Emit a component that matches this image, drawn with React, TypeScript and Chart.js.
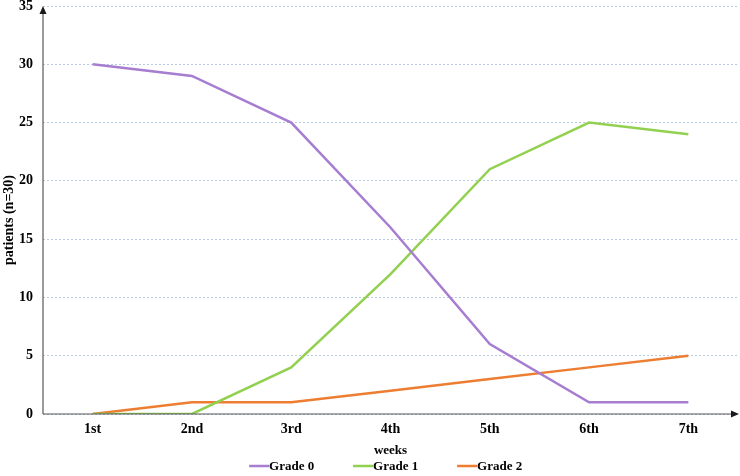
import React, { useEffect, useRef } from "react";
import { Chart, registerables } from "chart.js";

Chart.register(...registerables);

const categories = ["1st", "2nd", "3rd", "4th", "5th", "6th", "7th"];
const grade0 = [30, 29, 25, 16, 6, 1, 1];
const grade1 = [0, 0, 4, 12, 21, 25, 24];
const grade2 = [0, 1, 1, 2, 3, 4, 5];
const seriesNames = ["Grade 0", "Grade 1", "Grade 2"];
const seriesColors = ["#A67DD0", "#92D050", "#ED7D31"];
const yTitle = "patients (n=30)";
const xTitle = "weeks";

const FONT = "'Liberation Serif', 'Times New Roman', serif";

const decorPlugin = {
  id: "decor",
  afterDraw(chart: any) {
    const { ctx, chartArea } = chart;
    const { left, right, top, bottom } = chartArea;
    ctx.save();
    // axes lines
    ctx.strokeStyle = "#595959";
    ctx.fillStyle = "#1a1a1a";
    ctx.lineWidth = 1.2;
    ctx.beginPath();
    ctx.moveTo(left, bottom);
    ctx.lineTo(left, top + 4);
    ctx.moveTo(left, bottom);
    ctx.lineTo(right - 4, bottom);
    ctx.stroke();
    // arrow heads
    ctx.beginPath();
    ctx.moveTo(left, top);
    ctx.lineTo(left - 3.5, top + 8);
    ctx.lineTo(left + 3.5, top + 8);
    ctx.closePath();
    ctx.fill();
    ctx.beginPath();
    ctx.moveTo(right + 1, bottom);
    ctx.lineTo(right - 7, bottom - 3.5);
    ctx.lineTo(right - 7, bottom + 3.5);
    ctx.closePath();
    ctx.fill();

    // y title
    ctx.fillStyle = "#000";
    ctx.font = `bold 14px ${FONT}`;
    ctx.textAlign = "center";
    ctx.textBaseline = "middle";
    ctx.save();
    ctx.translate(9, 220);
    ctx.rotate(-Math.PI / 2);
    ctx.fillText(yTitle, 0, 0);
    ctx.restore();

    // legend
    const cx = (left + right) / 2;
    const step = 104;
    const ly = 466;
    ctx.font = `bold 13px ${FONT}`;
    ctx.textAlign = "left";
    chart.data.datasets.forEach((ds: any, i: number) => {
      const x0 = cx - step * 1.35 - 1 + i * step;
      ctx.strokeStyle = ds.borderColor;
      ctx.lineWidth = 2.5;
      ctx.beginPath();
      ctx.moveTo(x0, ly);
      ctx.lineTo(x0 + 20, ly);
      ctx.stroke();
      ctx.fillStyle = "#000";
      ctx.fillText(ds.label, x0 + 20, ly + 1);
    });
    ctx.restore();
  },
};

export default function App() {
  const ref = useRef<HTMLCanvasElement | null>(null);
  useEffect(() => {
    document.body.style.margin = "0";
    const canvas = ref.current;
    if (!canvas) return;
    const data = [grade0, grade1, grade2];
    const chart = new Chart(canvas, {
      type: "line",
      data: {
        labels: categories,
        datasets: data.map((d, i) => ({
          label: seriesNames[i],
          data: d,
          borderColor: seriesColors[i],
          backgroundColor: seriesColors[i],
          borderWidth: 2.5,
          pointRadius: 0,
          tension: 0,
          fill: false,
        })),
      },
      options: {
        animation: false,
        responsive: false,
        maintainAspectRatio: false,
        layout: { padding: { left: 0, right: 2, top: 6, bottom: 0 } },
        plugins: {
          legend: { display: false },
          tooltip: { enabled: false },
        },
        scales: {
          x: {
            offset: true,
            grid: { display: false, drawTicks: false },
            border: { display: false },
            ticks: {
              color: "#000",
              font: { family: FONT, size: 14, weight: "bold" },
              padding: 7,
            },
            title: {
              display: true,
              text: xTitle,
              color: "#000",
              font: { family: FONT, size: 13, weight: "bold" },
              padding: { top: 0, bottom: 18 },
            },
            afterFit: (s: any) => {
              s.height = 62;
              s.paddingLeft = 0;
              s.paddingRight = 0;
            },
          },
          y: {
            min: 0,
            max: 35,
            ticks: {
              stepSize: 5,
              color: "#000",
              font: { family: FONT, size: 14, weight: "bold" },
              padding: 10,
            },
            grid: {
              drawTicks: false,
              color: "#B4C9E6",
              lineWidth: 1,
            },
            border: { display: false, dash: [2, 2] },
            afterFit: (s: any) => {
              s.width = 43;
              s.paddingTop = 0;
              s.paddingBottom = 0;
            },
          },
        },
      },
      plugins: [decorPlugin],
    });
    return () => chart.destroy();
  }, []);
  return (
    <div style={{ width: 740, height: 476 }}>
      <canvas ref={ref} width={740} height={476} style={{ display: "block" }} />
    </div>
  );
}
